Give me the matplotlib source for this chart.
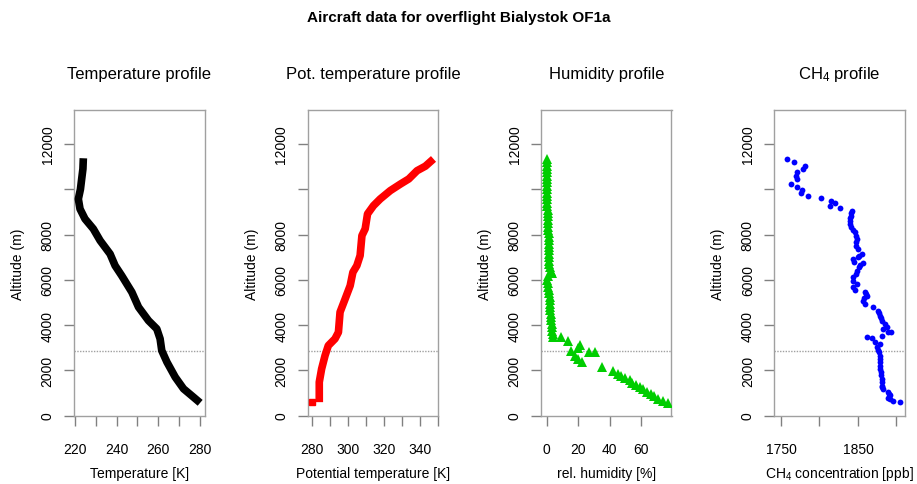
import numpy as np
import matplotlib
matplotlib.use('Agg')
import matplotlib.pyplot as plt

plt.rcParams['font.family'] = ['Liberation Sans', 'DejaVu Sans']
plt.rcParams['mathtext.default'] = 'regular'

# altitude (m) / value pairs
tempAlt = [11370, 10900, 10455, 10000, 9570, 9130, 8690, 8250, 7730, 7140, 6625, 6180,
           5450, 4790, 4195, 3830, 3390, 2870, 2360, 1695, 1180, 810, 560]
temp = [224.0, 223.8, 223.2, 222.6, 221.6, 222.4, 224.8, 228.8, 232.1, 236.9, 239.3, 242.5,
        247.4, 250.6, 255.4, 259.4, 261.0, 261.8, 264.3, 268.3, 272.3, 277.1, 280.3]

thetaAlt = [590, 1475, 2060, 2650, 3090, 3390, 3680, 4570, 5150, 5740, 6330, 6625, 7070,
            7950, 8250, 8910, 9275, 9570, 9940, 10230, 10455, 10820, 11020, 11340]
theta = [284.2, 284.2, 285.5, 287.4, 289.2, 292.9, 294.8, 295.7, 298.5, 301.3, 302.8, 305.0,
         306.8, 307.8, 309.6, 310.9, 314.2, 317.9, 323.5, 329.1, 333.7, 338.3, 342.9, 347.4]
thetaOutAlt = [590]
thetaOut = [280.3]

rhAlt = [11340, 11200, 11050, 10900, 10750, 10600, 10450, 10300, 10150, 10000, 9850, 9700,
         9550, 9400, 9250, 9100, 8950, 8800, 8650, 8500, 8350, 8200, 8050, 7900, 7750, 7600,
         7450, 7300, 7150, 7000, 6850, 6700, 6550, 6400, 6300, 6150, 6000, 5850, 5700, 5550,
         5400, 5250, 5100, 4950, 4800, 4650, 4500, 4350, 4200, 4050, 3900, 3750, 3600, 3480,
         3450, 3300, 3100, 3000, 2870, 2650, 2500, 2360, 2800, 2800, 2150, 1950, 1850, 1750,
         1650, 1550, 1450, 1350, 1250, 1150, 1050, 950, 850, 750, 650, 560]
rh = [0.3, 0.2, 0.2, 0.1, 0.1, 0.2, 0.2, 0.3, 0.3, 0.2, 0.3, 0.4, 0.4, 0.5, 0.5, 0.6, 0.7,
      0.8, 0.8, 0.9, 1.0, 1.1, 1.2, 1.2, 1.3, 1.4, 1.5, 1.5, 1.4, 1.3, 1.2, 1.6, 2.0, 2.8,
      3.5, 1.0, 0.5, 0.7, 1.0, 1.3, 1.5, 1.8, 2.0, 2.2, 2.3, 2.4, 2.5, 2.8, 3.0, 3.2, 3.5,
      3.7, 4.0, 4.2, 9.0, 13.5, 21.0, 20.0, 15.5, 18.0, 20.0, 22.5, 27.0, 31.0, 35.0, 42.0,
      45.0, 47.0, 50.0, 53.0, 54.0, 57.0, 59.0, 61.0, 64.0, 66.0, 68.0, 71.0, 74.0, 77.3]

ch4Alt = [11340, 11190, 11040, 10900, 10780, 10600, 10455, 10230, 10115, 9980, 9840, 9720,
          9615, 9500, 9395, 9275, 9160, 9030, 8930, 8835, 8720, 8615, 8470, 8320, 8200, 8100,
          7950, 7805, 7650, 7510, 7360, 7140, 7070, 6995, 6920, 6775, 6745, 6650, 6555, 6405,
          6260, 6110, 5965, 5820, 5670, 5565, 5480, 5390, 5300, 5180, 5080, 4935, 4790, 4640,
          4530, 4420, 4300, 4195, 4050, 3905, 3830, 3710, 3710, 3530, 3460, 3420, 3270, 3165,
          3020, 2900, 2800, 2650, 2505, 2360, 2210, 2060, 1915, 1770, 1620, 1470, 1325, 1250,
          1180, 1035, 960, 885, 780, 720, 660, 590]
ch4 = [1757.4, 1766.9, 1781.5, 1778.1, 1771.1, 1769.4, 1771.1, 1762.6, 1770.3, 1776.8, 1775.9,
       1785.4, 1801.5, 1814.8, 1820.0, 1813.5, 1826.5, 1842.4, 1841.5, 1840.7, 1840.0, 1839.5,
       1839.8, 1840.3, 1843.0, 1846.0, 1847.5, 1848.2, 1847.8, 1847.3, 1850.2, 1854.6, 1851.5,
       1850.2, 1843.7, 1844.6, 1855.9, 1853.0, 1851.5, 1848.2, 1847.3, 1843.7, 1843.7, 1848.2,
       1843.7, 1846.0, 1859.0, 1860.5, 1861.2, 1858.0, 1855.9, 1859.0, 1869.7, 1876.2, 1877.5,
       1878.4, 1879.5, 1880.6, 1884.9, 1887.1, 1881.9, 1889.1, 1893.5, 1880.6, 1861.2, 1867.6,
       1871.9, 1878.4, 1874.1, 1876.5, 1877.5, 1878.0, 1878.4, 1878.4, 1878.4, 1879.0, 1879.3,
       1880.0, 1880.6, 1880.6, 1880.6, 1881.2, 1881.9, 1889.1, 1890.5, 1892.2, 1889.1, 1892.0,
       1895.6, 1904.3]

blh = 2870  # dotted line (boundary layer top)

# panel settings
titles = ['Temperature profile', 'Pot. temperature profile', 'Humidity profile', 'CH$_4$ profile']
xlabels = ['Temperature [K]', 'Potential temperature [K]', 'rel. humidity [%]',
           'CH$_4$ concentration [ppb]']
xlims = [(219.5, 282.4), (277.8, 350.0), (-3.6, 79.3), (1741.3, 1910.8)]
xticks = [np.arange(220, 281, 10), np.arange(280, 351, 10), [0, 20, 40, 60], [1750, 1800, 1850, 1900]]
xticklabels = [['220', '', '240', '', '260', '', '280'],
               ['280', '', '300', '', '320', '', '340', ''],
               ['0', '20', '40', '60'],
               ['1750', '', '1850', '']]
yticks = np.arange(0, 12001, 2000)
yticklabels = ['0', '2000', '4000', '6000', '8000', '', '12000']
lefts = [74, 307.7, 541, 774.3]  # box left edges in pixels

W, H = 917, 485
fig = plt.figure(figsize=(W / 100, H / 100), dpi=100)
boxCol = '#a0a0a0'
tickCol = '#808080'

axes = []
for i in range(4):
    ax = fig.add_axes([lefts[i] / W, (H - 416.5) / H, 130.5 / W, (416.5 - 111.3) / H])
    ax.set_xlim(xlims[i])
    ax.set_ylim(0, 13490)
    ax.set_xticks(xticks[i])
    ax.set_xticklabels(xticklabels[i])
    ax.set_yticks(yticks)
    ax.set_yticklabels(yticklabels, rotation=90, va='center')
    ax.tick_params(axis='both', length=7, color=tickCol, labelsize=10, width=1)
    ax.tick_params(axis='x', pad=12)
    ax.tick_params(axis='y', pad=7)
    for s in ax.spines.values():
        s.set_color(boxCol)
        s.set_linewidth(1)
    ax.axhline(blh, color='#a0a0a0', linestyle=(0, (1, 1)), linewidth=1, zorder=1)
    cx = (lefts[i] + 65.25) / W
    fig.text(cx, 1 - 75 / H, titles[i], ha='center', va='center', fontsize=12)
    fig.text(cx, 1 - 474 / H, xlabels[i], ha='center', va='center', fontsize=10)
    fig.text((lefts[i] - 56) / W, 1 - 264 / H, 'Altitude (m)', ha='center', va='center',
             rotation=90, fontsize=10)
    axes.append(ax)

axes[0].plot(temp, tempAlt, color='black', linewidth=5.5, solid_capstyle='butt', zorder=3)
axes[1].plot(theta, thetaAlt, color='red', linewidth=5.5, solid_capstyle='butt', zorder=3)
axes[1].plot(thetaOut, thetaOutAlt, 's', color='red', markersize=5, zorder=3)
axes[2].plot(rh, rhAlt, '^', color='#00cd00', markersize=6.5, markeredgewidth=0, zorder=3)
axes[3].plot(ch4, ch4Alt, 'o', color='blue', markersize=4.2, markeredgewidth=0, zorder=3)

fig.text(0.5, 1 - 18 / H, 'Aircraft data for overflight Bialystok OF1a', ha='center',
         va='center', fontsize=11, fontweight='bold')

plt.savefig('out.png', dpi=100)
